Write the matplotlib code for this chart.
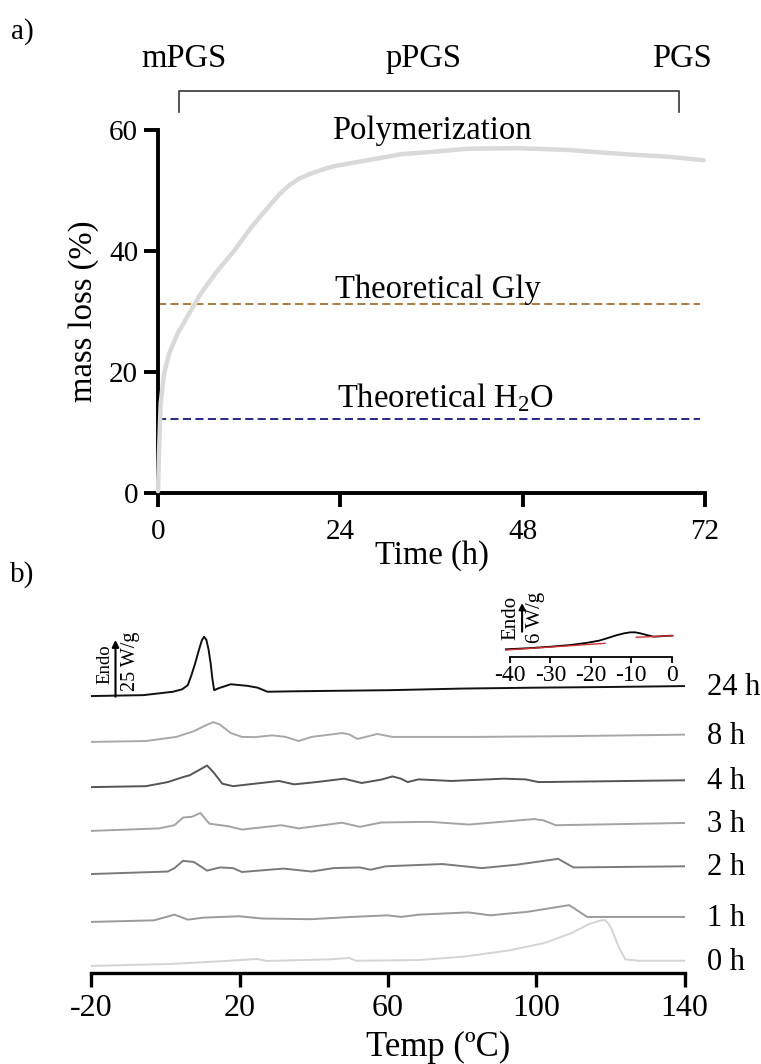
import numpy as np
import matplotlib
matplotlib.use('Agg')
import matplotlib.pyplot as plt

plt.rcParams['font.family'] = 'Liberation Serif'
plt.rcParams['mathtext.fontset'] = 'custom'
plt.rcParams['mathtext.rm'] = 'Liberation Serif'
plt.rcParams['mathtext.it'] = 'Liberation Serif:italic'
plt.rcParams['axes.unicode_minus'] = False

W, H = 761, 1064

# ---- (a) mass loss during the polycondensation ----
time_h = [0, 0.13, 0.35, 0.79, 1.45, 2.55, 4.07, 5.6, 7.8, 10, 12.2, 14.4, 16.0, 17.3,
          18.5, 19.9, 21.5, 23.1, 25.3, 27.6, 32, 36.2, 40.7, 47.2, 53.9, 58.2, 62.7, 67, 71.8]
mass_loss = [0.3, 6.6, 14.8, 19.7, 23.0, 26.3, 29.6, 32.9, 36.7, 40.0, 43.8, 47.1, 49.4, 50.9,
             51.9, 52.7, 53.4, 54.0, 54.5, 55.0, 56.0, 56.4, 56.9, 57.0, 56.7, 56.3, 55.9, 55.6, 55.0]
theory_gly = 31.2
theory_h2o = 12.2
stages = ['mPGS', 'pPGS', 'PGS']
stage_t = [3.4, 34.9, 69.0]

# ---- (b) DSC traces (W/g, relative to each trace's start) ----
dsc_labels = ['0 h', '1 h', '2 h', '3 h', '4 h', '8 h', '24 h']
T_0h = [-20, 1.8, 16.3, 24.8, 27.2, 44.1, 49.6, 51.4, 68.3, 80.4, 92.5, 102.2, 109.5,
        114.3, 117.0, 118.5, 119.5, 120.4, 122.2, 124.0, 127.6, 140]
q_0h = [0, 0.9, 2.2, 3.1, 2.2, 2.9, 3.5, 2.3, 2.6, 4.1, 6.8, 10.1, 14.5,
        18.5, 19.9, 20.3, 18.6, 15.9, 8.5, 2.9, 2.3, 2.3]
T_1h = [-20, -3.1, 2.4, 6.0, 10.3, 19.9, 26.0, 39.3, 50.2, 59.9, 63.5, 68.3, 81.6,
        87.7, 92.5, 97.4, 108.9, 113.7, 140]
q_1h = [0, 0.7, 3.2, 1.0, 1.9, 2.5, 1.5, 1.2, 2.2, 2.9, 2.2, 3.2, 4.2,
        2.9, 3.7, 4.4, 7.4, 2.2, 2.2]
T_2h = [-20, 0.6, 2.4, 4.7, 7.6, 8.8, 11.2, 14.7, 18.2, 20.6, 31.8, 39.4, 45.3,
        52.4, 55.3, 59.4, 74.7, 85.3, 94.7, 105.9, 110, 140]
q_2h = [0, 1.1, 2.6, 5.8, 5.3, 4.1, 1.5, 2.9, 2.6, 0.9, 2.4, 1.1, 2.6,
        2.9, 1.9, 3.4, 4.4, 2.6, 4.1, 6.7, 2.9, 3.4]
T_3h = [-20, -1.8, 2.4, 4.7, 7.1, 9.4, 11.8, 17.1, 20.6, 31.2, 35.9, 47.6, 52.4,
        58.2, 71.2, 81.8, 99.4, 101.8, 105.3, 140]
q_3h = [0, 1.1, 2.5, 5.9, 6.2, 7.9, 3.2, 2.0, 0.6, 2.5, 1.1, 3.6, 1.8,
        3.7, 4.0, 2.8, 5.2, 4.7, 2.5, 3.5]
T_4h = [-20, -5.3, 0.6, 4.7, 6.5, 8.8, 11.2, 12.9, 15.3, 18.2, 24.1, 30.6, 34.7,
        40.6, 48.2, 52.9, 58.2, 61.2, 63.5, 65.3, 68.2, 77.1, 91.2, 97.1, 100.6, 140]
q_4h = [0, 0.4, 2.2, 4.4, 5.2, 7.3, 9.5, 6.6, 1.5, 0.4, 1.5, 2.7, 1.2,
        2.2, 3.7, 1.8, 3.3, 4.7, 3.7, 2.2, 3.4, 2.7, 3.7, 3.4, 2.2, 3.0]
T_8h = [-20, -5.3, 2.9, 7.6, 11.2, 12.9, 14.7, 17.6, 20.6, 24.1, 28.8, 32.4, 35.9,
        39.4, 47.6, 49.4, 51.8, 57.1, 61.2, 82.9, 106.5, 140]
q_8h = [0, 0.4, 2.2, 4.7, 7.6, 8.7, 7.6, 3.9, 2.2, 2.1, 2.9, 2.2, 0.4,
        2.2, 3.9, 3.4, 1.3, 3.5, 2.2, 2.2, 2.5, 3.2]
T_24h = [-20, -6, 2, 4.5, 6, 7, 8, 9, 9.8, 10.4, 11.0, 11.6, 12.2, 12.6, 13.1, 14.4,
         17.6, 22.1, 24.8, 27.5, 34.7, 60.8, 80, 100, 120, 140]
q_24h = [0, 0.4, 1.9, 3.0, 4.8, 9.3, 14.5, 20.3, 24.6, 26.1, 24.8, 20.5, 14.0, 8.0, 2.6, 3.5,
         5.2, 4.5, 3.7, 1.9, 2.1, 2.6, 3.3, 3.7, 4.0, 4.4]
dsc_T = [T_0h, T_1h, T_2h, T_3h, T_4h, T_8h, T_24h]
dsc_q = [q_0h, q_1h, q_2h, q_3h, q_4h, q_8h, q_24h]
scale_main = 25  # W/g

# glass transition region of the 24 h sample
Tg_T = [-41, -35, -30, -25, -21, -18, -16, -14, -12, -10.3, -9, -7.8, -6, -4.5,
        -3, -1.5, 0]
Tg_q = [1.55, 1.8, 2.1, 2.45, 2.9, 3.35, 3.85, 4.4, 4.85, 5.1, 5.1, 4.9, 4.5, 4.2,
        4.25, 4.35, 4.4]
base1_T = [-41, -16.5]
base1_q = [1.4, 2.8]
base2_T = [-8.7, 0.4]
base2_q = [4.06, 4.4]
scale_inset = 6  # W/g


def fx(px):
    return px / W


def fy(py):
    return 1 - py / H


fig = plt.figure(figsize=(W / 100, H / 100), dpi=100)

# panel a
ax1 = fig.add_axes([fx(158), fy(493), (705 - 158) / W, (493 - 130) / H])
ax1.plot(time_h, mass_loss, color='#d9d9d9', lw=3.2, solid_capstyle='round',
         solid_joinstyle='round', clip_on=False, zorder=3)
ax1.plot([0, 71.3], [theory_gly, theory_gly], color='#a86f2c', lw=1.3,
         dashes=(4.5, 2.4), zorder=2)
ax1.plot([0, 71.3], [theory_h2o, theory_h2o], color='#16167f', lw=1.3,
         dashes=(4.5, 2.4), zorder=2)
ax1.text(36.9, 32.3, 'Theoretical Gly', fontsize=23.5, ha='center', va='baseline')
ax1.text(37.8, 14.1, r'Theoretical H$_\mathrm{2}$O', fontsize=23.5, ha='center', va='baseline')
ax1.text(36.0, 58.45, 'Polymerization', fontsize=23.5, ha='center', va='baseline')

# stage bracket above the plot
ax1.plot([2.8, 2.8, 68.6, 68.6], [62.98, 66.45, 66.45, 62.98], color='#333333',
         lw=1.2, clip_on=False)
for name, t in zip(stages, stage_t):
    ax1.text(t, 70.46, name, fontsize=23.5, ha='center', va='baseline')

ax1.set_xlim(0, 72)
ax1.set_ylim(0, 60)
ax1.set_xticks([0, 24, 48, 72])
ax1.set_yticks([0, 20, 40, 60])
ax1.spines[['top', 'right']].set_visible(False)
for s in ['left', 'bottom']:
    ax1.spines[s].set_linewidth(2.8)
ax1.tick_params(width=2.8, length=10.4, labelsize=21)
ax1.tick_params(axis='x', pad=8)
ax1.tick_params(axis='y', pad=4)
ax1.set_facecolor('none')

fig.text(fx(84), fy(311), 'mass loss (%)', fontsize=23.5, rotation=90,
         ha='center', va='center')
fig.text(fx(432), fy(556), 'Time (h)', fontsize=23.5, ha='center', va='center')
fig.text(fx(22), fy(32), 'a)', fontsize=21, ha='center', va='center')
fig.text(fx(22), fy(575), 'b)', fontsize=21, ha='center', va='center')

# panel b
px_per_wg = 2.27
ax2 = fig.add_axes([fx(91.4), fy(973), (684.6 - 91.4) / W, (973 - 590) / H])
offsets = [3.1, 22.5, 43.6, 62.6, 81.9, 101.8, 122.0]
colors = ['#d4d4d4', '#9a9a9a', '#7a7a7a', '#a3a3a3', '#555555', '#a8a8a8', '#111111']
for label, T, q, off, c in zip(dsc_labels, dsc_T, dsc_q, offsets, colors):
    y = np.array(q) + off
    ax2.plot(T, y, color=c, lw=1.4, solid_joinstyle='round')
    ax2.text(146.0, y[-1] - 9 / px_per_wg, label, fontsize=22,
             ha='left', va='baseline', clip_on=False)

ax2.set_xlim(-20, 140)
ax2.set_ylim(0, (973 - 590) / px_per_wg)
ax2.set_xticks([-20, 20, 60, 100, 140])
ax2.set_yticks([])
ax2.spines[['top', 'right', 'left']].set_visible(False)
ax2.spines['bottom'].set_linewidth(2.4)
ax2.tick_params(axis='x', width=2.4, length=10, labelsize=23, pad=5)
ax2.set_facecolor('none')

# endo scale bar
y0 = 121.7
ax2.annotate('', xy=(-13.5, y0 + scale_main), xytext=(-13.5, y0),
             arrowprops=dict(arrowstyle='-|>', color='black', lw=1.5,
                             mutation_scale=10, shrinkA=0, shrinkB=0))
ax2.text(-16.3, 135.9, 'Endo', fontsize=13.5, rotation=90, ha='center', va='center')
ax2.text(-9.45, 137.4, f'{scale_main} W/g', fontsize=14.5, rotation=90,
         ha='center', va='center')

fig.text(fx(438), fy(1056), 'Temp (ºC)', fontsize=25, ha='center', va='baseline')

# inset: Tg step of the 24 h sample
ax3 = fig.add_axes([fx(493.8), fy(656.7), (675.7 - 493.8) / W, (656.7 - 589.8) / H])
ax3.plot(Tg_T, Tg_q, color='black', lw=1.3)
ax3.plot(base1_T, base1_q, color='#d03030', lw=1.0)
ax3.plot(base2_T, base2_q, color='#d03030', lw=1.0)
ax3.set_xlim(-44, 1)
ax3.set_ylim(0, 14)
ax3.set_xticks([-40, -30, -20, -10, 0])
ax3.set_yticks([])
ax3.spines[['top', 'right', 'left']].set_visible(False)
ax3.spines['bottom'].set_bounds(-40, 0)
ax3.spines['bottom'].set_linewidth(1.3)
ax3.tick_params(axis='x', width=1.3, length=4, labelsize=17, pad=2)
ax3.set_facecolor('none')
yi = 5.23
ax3.annotate('', xy=(-37, yi + scale_inset), xytext=(-37, yi),
             arrowprops=dict(arrowstyle='-|>', color='black', lw=1.5,
                             mutation_scale=9, shrinkA=0, shrinkB=0))
ax3.text(-39.75, 8.2, 'Endo', fontsize=15, rotation=90, ha='center', va='center')
ax3.text(-33.7, 8.2, f'{scale_inset} W/g', fontsize=15, rotation=90,
         ha='center', va='center')

fig.savefig('out.png', dpi=100)
